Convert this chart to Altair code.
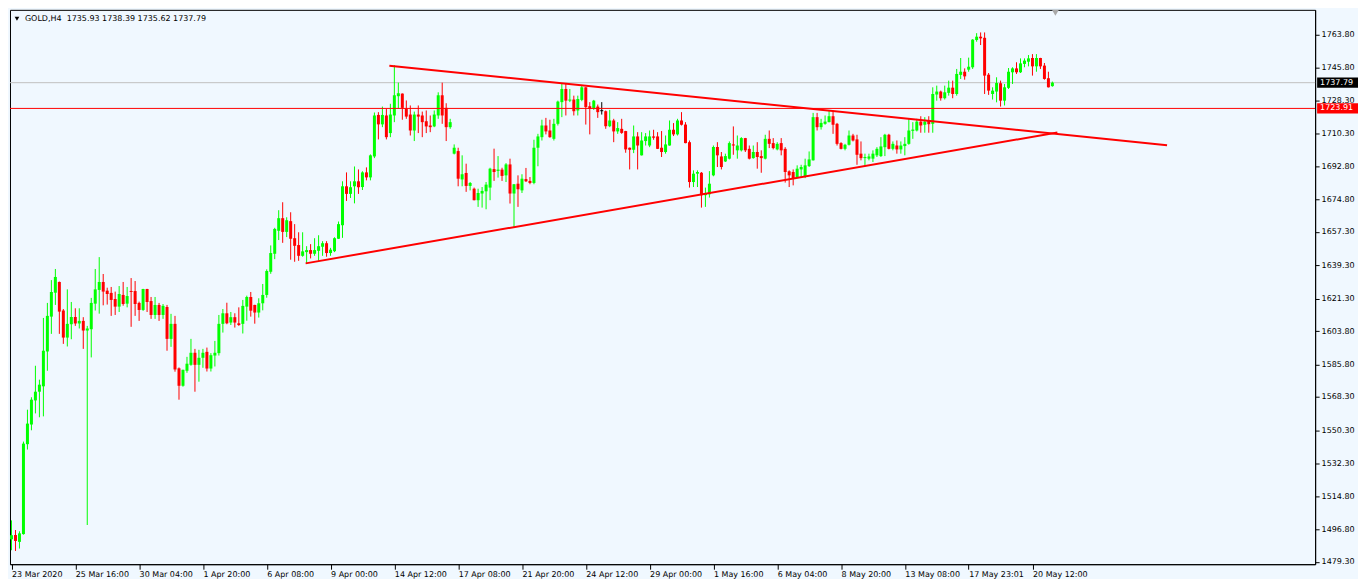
import altair as alt
import pandas as pd

# ---- OHLC values (GOLD, H4) ----
opens = [
    1491.5, 1493.8, 1490.1, 1494.3, 1542.8, 1553.4, 1566.4, 1571.1, 1574.0, 1592.8,
    1611.6, 1624.5, 1630.3, 1614.9, 1600.3, 1607.5, 1611.4, 1607.9, 1609.3, 1604.1,
    1604.8, 1618.6, 1626.0, 1630.3, 1625.6, 1624.4, 1621.1, 1617.0, 1623.3, 1618.6,
    1625.4, 1625.4, 1619.0, 1615.2, 1626.5, 1620.0, 1612.5, 1617.9, 1612.5, 1616.8,
    1599.6, 1607.7, 1583.7, 1574.3, 1582.4, 1585.6, 1592.1, 1585.6, 1589.4, 1592.6,
    1583.6, 1590.6, 1591.9, 1607.7, 1613.4, 1608.4, 1611.3, 1608.0, 1607.7, 1617.0,
    1622.2, 1617.9, 1613.8, 1618.8, 1623.3, 1635.8, 1645.5, 1657.9, 1664.7, 1657.3,
    1663.1, 1653.9, 1650.2, 1644.4, 1646.4, 1647.5, 1645.5, 1647.1, 1649.3, 1651.2,
    1645.9, 1646.9, 1653.6, 1660.9, 1681.9, 1677.8, 1681.9, 1684.6, 1681.5, 1689.4,
    1686.7, 1698.0, 1720.4, 1715.3, 1720.1, 1710.6, 1720.1, 1730.5, 1731.9, 1723.7,
    1720.6, 1712.0, 1720.6, 1720.1, 1717.0, 1714.7, 1714.2, 1720.1, 1731.0, 1724.2,
    1713.8, 1699.5, 1700.9, 1685.6, 1689.1, 1682.1, 1680.6, 1674.4, 1678.0, 1679.2,
    1681.2, 1691.2, 1690.2, 1690.9, 1687.8, 1693.7, 1678.0, 1683.3, 1679.7, 1685.8,
    1684.8, 1683.7, 1702.7, 1708.4, 1714.7, 1712.0, 1707.5, 1715.6, 1727.3, 1734.4,
    1728.1, 1728.7, 1722.8, 1728.5, 1735.3, 1725.1, 1724.0, 1724.9, 1722.4, 1722.4,
    1714.3, 1717.4, 1711.5, 1712.9, 1711.7, 1702.7, 1701.6, 1708.8, 1698.6, 1706.3,
    1703.9, 1708.8, 1708.8, 1702.7, 1700.4, 1703.9, 1712.4, 1709.9, 1717.4, 1715.2,
    1705.7, 1684.2, 1688.7, 1689.2, 1677.1, 1677.6, 1687.8, 1703.1, 1698.0, 1695.3,
    1696.8, 1704.5, 1701.3, 1701.3, 1707.9, 1702.1, 1697.1, 1700.4, 1698.2, 1696.8,
    1707.5, 1705.2, 1701.8, 1705.2, 1702.1, 1690.0, 1689.6, 1686.9, 1691.0, 1686.9,
    1692.8, 1695.9, 1719.2, 1713.8, 1715.6, 1716.5, 1719.7, 1715.6, 1705.2, 1702.1,
    1704.3, 1709.3, 1707.2, 1699.5, 1697.1, 1696.8, 1696.8, 1698.6, 1698.2, 1703.0,
    1709.7, 1702.1, 1703.9, 1701.8, 1703.6, 1704.8, 1711.8, 1712.0, 1716.8, 1715.1,
    1717.4, 1715.6, 1731.4, 1733.0, 1729.4, 1732.3, 1735.1, 1731.7, 1742.0, 1743.7,
    1744.8, 1746.1, 1760.8, 1762.6, 1762.0, 1742.1, 1731.7, 1733.0, 1737.5, 1728.1,
    1735.0, 1743.4, 1745.5, 1743.4, 1747.9, 1749.1, 1751.1, 1746.6, 1751.1, 1747.0,
    1740.2, 1735.93,
]
highs = [
    1501.7, 1496.5, 1495.8, 1544.2, 1561.4, 1568.1, 1585.1, 1577.6, 1610.9, 1619.0,
    1631.3, 1637.3, 1630.5, 1615.7, 1626.3, 1619.5, 1616.1, 1616.1, 1611.3, 1606.6,
    1621.7, 1637.3, 1643.7, 1634.6, 1627.2, 1627.6, 1625.1, 1628.1, 1630.3, 1627.6,
    1632.4, 1630.8, 1619.7, 1626.6, 1626.6, 1622.2, 1622.2, 1619.0, 1618.4, 1617.9,
    1613.1, 1612.0, 1584.2, 1583.0, 1589.9, 1599.6, 1594.2, 1593.7, 1594.2, 1594.9,
    1591.9, 1598.5, 1612.5, 1615.7, 1619.1, 1614.1, 1613.4, 1616.6, 1620.6, 1622.9,
    1624.9, 1618.0, 1621.5, 1629.2, 1637.1, 1650.0, 1659.5, 1669.0, 1673.3, 1665.2,
    1667.9, 1661.5, 1657.1, 1657.1, 1649.6, 1650.7, 1653.9, 1655.5, 1652.3, 1652.3,
    1648.7, 1654.4, 1662.9, 1684.6, 1689.4, 1684.6, 1692.6, 1691.0, 1690.0, 1692.1,
    1699.1, 1721.7, 1721.9, 1724.9, 1723.7, 1726.4, 1747.2, 1737.8, 1732.0, 1728.2,
    1725.5, 1722.2, 1725.5, 1722.2, 1722.8, 1720.1, 1722.8, 1732.6, 1737.8, 1726.7,
    1718.3, 1704.5, 1702.7, 1698.6, 1694.1, 1684.2, 1681.2, 1680.6, 1681.5, 1684.2,
    1691.9, 1702.2, 1698.2, 1691.9, 1694.4, 1696.8, 1683.1, 1687.8, 1688.4, 1691.8,
    1686.9, 1707.0, 1710.2, 1717.8, 1718.8, 1717.8, 1718.3, 1728.1, 1737.5, 1737.5,
    1734.4, 1730.8, 1730.8, 1736.2, 1735.4, 1727.3, 1728.5, 1726.0, 1727.3, 1722.8,
    1723.1, 1718.3, 1716.5, 1718.3, 1711.8, 1702.8, 1714.7, 1711.1, 1711.1, 1710.6,
    1712.0, 1712.4, 1711.1, 1711.7, 1709.3, 1717.4, 1716.0, 1718.3, 1721.9, 1716.5,
    1706.6, 1690.5, 1690.5, 1689.6, 1681.2, 1690.1, 1703.9, 1705.7, 1700.4, 1699.5,
    1706.1, 1714.2, 1709.3, 1708.4, 1708.0, 1703.9, 1703.9, 1705.7, 1701.3, 1709.7,
    1712.0, 1707.9, 1705.7, 1707.9, 1703.0, 1690.5, 1691.0, 1693.2, 1693.5, 1696.8,
    1700.7, 1721.5, 1721.5, 1718.3, 1720.1, 1722.8, 1722.8, 1716.1, 1705.7, 1704.8,
    1712.0, 1710.2, 1709.7, 1706.1, 1699.5, 1699.5, 1701.3, 1703.0, 1708.4, 1710.2,
    1710.2, 1706.1, 1706.6, 1706.1, 1708.4, 1718.3, 1716.5, 1718.3, 1719.7, 1719.2,
    1719.7, 1735.3, 1736.2, 1733.5, 1736.2, 1738.9, 1738.9, 1745.2, 1751.1, 1745.5,
    1751.3, 1761.3, 1764.5, 1764.9, 1764.9, 1743.0, 1735.3, 1740.7, 1738.9, 1737.1,
    1745.7, 1746.1, 1748.8, 1750.9, 1750.9, 1752.7, 1753.2, 1753.2, 1751.2, 1748.4,
    1743.7, 1738.39,
]
lows = [
    1485.6, 1485.2, 1486.5, 1494.0, 1539.9, 1550.3, 1559.4, 1557.3, 1557.8, 1582.4,
    1602.3, 1617.9, 1602.3, 1596.9, 1595.5, 1599.4, 1606.6, 1605.2, 1594.2, 1499.2,
    1589.6, 1614.9, 1613.2, 1617.7, 1618.1, 1612.0, 1612.5, 1614.1, 1617.5, 1616.6,
    1606.1, 1612.0, 1609.3, 1614.7, 1614.1, 1610.4, 1610.4, 1609.3, 1610.4, 1593.2,
    1595.3, 1581.9, 1566.8, 1573.8, 1581.3, 1585.1, 1571.1, 1576.5, 1584.0, 1582.0,
    1582.0, 1584.7, 1590.6, 1603.0, 1607.5, 1607.1, 1605.7, 1606.6, 1602.5, 1609.4,
    1611.6, 1607.8, 1611.1, 1615.0, 1621.8, 1634.7, 1642.6, 1652.9, 1651.4, 1654.5,
    1642.3, 1641.2, 1641.7, 1643.9, 1640.3, 1643.0, 1644.4, 1641.7, 1644.4, 1643.9,
    1644.4, 1646.4, 1653.5, 1654.1, 1674.0, 1675.6, 1672.7, 1677.8, 1679.9, 1685.1,
    1685.1, 1697.1, 1707.2, 1713.8, 1707.2, 1708.4, 1716.5, 1723.7, 1717.8, 1718.3,
    1709.3, 1706.3, 1710.6, 1708.4, 1710.6, 1711.1, 1713.8, 1718.3, 1715.6, 1706.3,
    1712.9, 1699.1, 1681.9, 1681.9, 1678.9, 1679.7, 1674.3, 1670.8, 1670.4, 1669.5,
    1674.4, 1684.8, 1686.6, 1684.8, 1684.2, 1672.6, 1659.7, 1670.8, 1678.3, 1684.2,
    1683.0, 1683.0, 1692.7, 1706.6, 1709.9, 1708.1, 1706.6, 1714.7, 1719.2, 1720.1,
    1727.3, 1720.1, 1720.1, 1727.8, 1715.2, 1709.9, 1723.1, 1718.8, 1720.6, 1712.9,
    1713.8, 1705.7, 1710.2, 1710.2, 1700.0, 1691.0, 1699.8, 1691.0, 1698.5, 1703.9,
    1703.0, 1707.0, 1702.0, 1697.7, 1699.5, 1703.8, 1709.0, 1709.3, 1714.7, 1705.1,
    1681.2, 1681.5, 1681.5, 1670.4, 1670.8, 1675.8, 1687.3, 1692.3, 1691.0, 1695.0,
    1696.4, 1698.9, 1696.8, 1700.7, 1700.4, 1696.4, 1696.8, 1691.4, 1689.2, 1696.4,
    1702.5, 1701.8, 1701.3, 1698.6, 1683.9, 1681.5, 1682.4, 1686.3, 1686.9, 1686.3,
    1692.3, 1695.8, 1712.0, 1712.5, 1715.1, 1716.4, 1710.2, 1703.9, 1701.8, 1701.3,
    1703.9, 1706.1, 1693.5, 1695.9, 1692.8, 1695.9, 1695.0, 1697.7, 1697.7, 1698.2,
    1701.8, 1701.3, 1699.5, 1699.5, 1698.6, 1704.3, 1707.5, 1711.5, 1710.8, 1710.8,
    1710.8, 1710.8, 1728.1, 1728.1, 1728.7, 1730.8, 1729.4, 1730.8, 1739.8, 1739.4,
    1743.7, 1745.2, 1759.9, 1758.1, 1731.7, 1731.2, 1728.7, 1727.2, 1724.9, 1725.5,
    1734.4, 1737.1, 1742.5, 1743.0, 1746.1, 1746.6, 1741.6, 1743.7, 1745.2, 1739.4,
    1735.2, 1735.62,
]
closes = [
    1493.7, 1490.6, 1494.7, 1543.1, 1553.9, 1566.8, 1571.1, 1574.9, 1593.2, 1612.0,
    1624.9, 1633.0, 1614.3, 1600.3, 1607.7, 1611.4, 1607.9, 1609.3, 1604.1, 1605.2,
    1619.0, 1626.3, 1630.3, 1625.1, 1623.8, 1620.6, 1617.0, 1623.8, 1618.4, 1622.7,
    1624.9, 1618.4, 1615.2, 1626.5, 1619.5, 1612.5, 1617.9, 1612.5, 1617.4, 1599.6,
    1607.7, 1583.1, 1574.3, 1582.9, 1586.2, 1592.1, 1585.6, 1589.4, 1592.1, 1583.6,
    1590.8, 1592.1, 1607.7, 1613.4, 1608.0, 1611.3, 1608.4, 1607.1, 1617.4, 1622.2,
    1614.8, 1613.8, 1618.8, 1623.3, 1636.2, 1645.9, 1658.9, 1664.7, 1657.3, 1663.6,
    1653.6, 1649.8, 1644.4, 1646.8, 1647.5, 1645.5, 1647.5, 1649.6, 1651.2, 1645.9,
    1647.7, 1653.9, 1661.5, 1681.9, 1677.8, 1681.4, 1684.6, 1681.4, 1689.4, 1686.7,
    1698.6, 1720.1, 1715.3, 1720.4, 1708.4, 1720.6, 1731.0, 1732.1, 1724.2, 1719.5,
    1712.0, 1720.6, 1719.5, 1716.5, 1714.2, 1713.8, 1720.6, 1731.0, 1720.1, 1713.8,
    1716.5, 1702.7, 1686.0, 1688.4, 1682.1, 1683.7, 1674.4, 1678.3, 1679.4, 1682.8,
    1691.4, 1689.6, 1690.9, 1687.5, 1693.7, 1678.0, 1683.0, 1680.3, 1686.0, 1684.6,
    1683.7, 1702.7, 1708.8, 1714.7, 1711.5, 1708.4, 1715.6, 1727.6, 1734.4, 1728.1,
    1728.7, 1722.4, 1729.0, 1735.3, 1724.6, 1723.7, 1728.1, 1721.9, 1722.4, 1714.3,
    1717.4, 1711.5, 1713.3, 1710.7, 1701.8, 1701.6, 1708.8, 1703.9, 1706.6, 1708.8,
    1708.8, 1708.1, 1702.1, 1700.4, 1704.5, 1712.4, 1709.9, 1717.4, 1715.1, 1705.2,
    1684.2, 1688.7, 1689.6, 1677.1, 1678.0, 1683.3, 1703.1, 1698.6, 1692.3, 1698.2,
    1705.2, 1703.9, 1703.9, 1707.9, 1701.3, 1696.8, 1700.4, 1697.7, 1697.1, 1707.5,
    1704.8, 1702.5, 1704.8, 1701.3, 1689.6, 1687.8, 1686.0, 1691.4, 1692.3, 1693.2,
    1696.4, 1719.2, 1713.8, 1716.1, 1716.8, 1719.7, 1715.1, 1704.8, 1702.1, 1704.3,
    1709.3, 1706.6, 1698.9, 1697.1, 1697.7, 1698.0, 1699.5, 1702.1, 1703.4, 1709.7,
    1702.1, 1704.8, 1701.8, 1703.9, 1704.8, 1712.0, 1712.5, 1716.8, 1714.7, 1716.8,
    1715.4, 1731.7, 1733.0, 1729.4, 1732.6, 1735.1, 1731.7, 1742.5, 1743.7, 1741.2,
    1746.4, 1761.0, 1762.6, 1761.7, 1741.6, 1733.5, 1733.5, 1737.6, 1728.1, 1735.3,
    1743.7, 1745.5, 1743.4, 1748.2, 1749.7, 1750.9, 1746.6, 1751.1, 1746.6, 1739.8,
    1735.3, 1737.79,
]

x_tick_bars = [0, 16, 32, 48, 64, 80, 96, 112, 128, 144, 160, 176, 192, 208, 224, 240, 256]
x_tick_labels = [
    "23 Mar 2020", "25 Mar 16:00", "30 Mar 04:00", "1 Apr 20:00", "6 Apr 08:00",
    "9 Apr 00:00", "14 Apr 12:00", "17 Apr 08:00", "21 Apr 20:00", "24 Apr 12:00",
    "29 Apr 00:00", "1 May 16:00", "6 May 04:00", "8 May 20:00", "13 May 08:00",
    "17 May 23:01", "20 May 12:00",
]
price_ticks = [
    1763.80, 1745.80, 1728.30, 1710.30, 1692.80, 1674.80, 1657.30, 1639.30, 1621.30,
    1603.80, 1585.80, 1568.30, 1550.30, 1532.30, 1514.80, 1496.80, 1479.30,
]

bid_price = 1737.79
level_price = 1723.91
header_text = "GOLD,H4\u00a0\u00a01735.93 1738.39 1735.62 1737.79"

trend_names = ["upper", "upper", "lower", "lower"]
trend_bars = [94.75, 289.75, 73.75, 262.25]
trend_prices = [1746.97, 1704.10, 1640.32, 1710.93]

shift_bar = [261.75]

# ---- tables ----
W, H = 1309, 556
PX_PER_USD = 1.8594
Y_LOW = 1478.06

candles = pd.DataFrame({"i": list(range(len(opens))), "o": opens, "h": highs, "l": lows, "c": closes})
candles["d"] = ["up" if c > o else ("down" if c < o else "doji") for o, c in zip(opens, closes)]
candles["lo"] = candles[["o", "c"]].min(axis=1)
candles["hi"] = pd.concat([candles[["o", "c"]].max(axis=1), candles["lo"] + 0.55], axis=1).max(axis=1)

trend_df = pd.DataFrame({"n": trend_names, "b": trend_bars, "p": trend_prices})
tags_df = pd.DataFrame({"p": [bid_price, level_price], "bg": ["#000000", "#ff0000"]})

FONT = "DejaVu Sans"
X_SCALE = alt.Scale(domain=[-0.375, -0.375 + W / 4], nice=False, zero=False, padding=0)
Y_SCALE = alt.Scale(domain=[Y_LOW, Y_LOW + H / PX_PER_USD], nice=False, zero=False, padding=0)
label_expr = "[" + ",".join("'%s'" % s for s in x_tick_labels) + "][round(datum.value / 16)]"
X_AXIS = alt.Axis(values=x_tick_bars, labelExpr=label_expr, orient="bottom", title=None,
                  grid=False, tickSize=5, tickColor="black", domainColor="black",
                  labelFont=FONT, labelFontSize=8, labelColor="black", labelAlign="left",
                  labelBaseline="top", labelPadding=1, labelFlush=False, labelOverlap=False)
Y_AXIS = alt.Axis(values=price_ticks, format=".2f", orient="right", title=None, grid=False,
                  tickSize=4, tickColor="black", domainColor="black", labelFont=FONT,
                  labelFontSize=8, labelColor="black", labelPadding=2, labelOverlap=False,
                  labelFlush=False, labelBaseline="middle")
COLOR = alt.Scale(domain=["up", "down", "doji"], range=["#00ff00", "#ff0000", "#000000"])

bid = alt.Chart(pd.DataFrame({"p": [bid_price]})).mark_rule(color="#c0c0c0", strokeWidth=1).encode(
    y=alt.Y("p:Q", scale=Y_SCALE, axis=Y_AXIS))

wicks = alt.Chart(candles).mark_rule(strokeWidth=1).encode(
    x=alt.X("i:Q", scale=X_SCALE, axis=X_AXIS),
    y=alt.Y("l:Q", scale=Y_SCALE, axis=Y_AXIS),
    y2="h:Q",
    color=alt.Color("d:N", scale=COLOR, legend=None))

bodies = alt.Chart(candles).mark_bar(width=3).encode(
    x=alt.X("i:Q", scale=X_SCALE, axis=X_AXIS),
    y=alt.Y("lo:Q", scale=Y_SCALE, axis=Y_AXIS),
    y2="hi:Q",
    color=alt.Color("d:N", scale=COLOR, legend=None))

level = alt.Chart(pd.DataFrame({"p": [level_price]})).mark_rule(color="#ff0000", strokeWidth=1).encode(
    y=alt.Y("p:Q", scale=Y_SCALE, axis=Y_AXIS))

trend = alt.Chart(trend_df).mark_line(color="#ff0000", strokeWidth=2).encode(
    x=alt.X("b:Q", scale=X_SCALE, axis=X_AXIS),
    y=alt.Y("p:Q", scale=Y_SCALE, axis=Y_AXIS),
    detail="n:N")

tag_rect = alt.Chart(tags_df).transform_calculate(
    lo="datum.p - 2.8", hi="datum.p + 2.8").mark_rect().encode(
    x=alt.value(W + 2), x2=alt.value(W + 43),
    y=alt.Y("lo:Q", scale=Y_SCALE, axis=Y_AXIS), y2="hi:Q",
    color=alt.Color("bg:N", scale=None))

tag_text = alt.Chart(tags_df).mark_text(align="left", baseline="middle", color="white",
                                        font=FONT, fontSize=8).encode(
    x=alt.value(W + 5),
    y=alt.Y("p:Q", scale=Y_SCALE, axis=Y_AXIS),
    text=alt.Text("p:Q", format=".2f"))

head_df = pd.DataFrame({"t": [header_text]})
header_tri = alt.Chart(head_df).mark_point(shape="triangle-down", filled=True, color="black",
                                            size=22, opacity=1).encode(
    x=alt.value(7), y=alt.value(9))
header = alt.Chart(head_df).mark_text(align="left", baseline="middle", font=FONT, fontSize=8,
                                      color="black").encode(
    x=alt.value(15), y=alt.value(9), text="t:N")

shift = alt.Chart(pd.DataFrame({"b": shift_bar})).mark_point(
    shape="triangle-down", filled=True, color="#a8a8a8", size=45, opacity=1).encode(
    x=alt.X("b:Q", scale=X_SCALE, axis=X_AXIS), y=alt.value(3))

chart = alt.layer(bid, wicks, bodies, level, trend, tag_rect, tag_text,
                  header_tri, header, shift).properties(
    width=W, height=H,
    padding={"left": 1, "top": 1, "right": 0, "bottom": 0},
    background="#f0f8ff",
).configure_view(stroke="black", strokeWidth=1, fill="#f0f8ff")

chart.save("out.html", embed_options={"renderer": "svg", "actions": False})
